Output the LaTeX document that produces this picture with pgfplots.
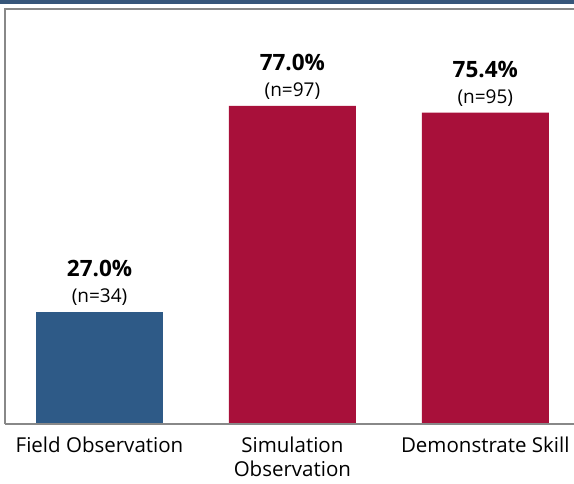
\documentclass[border=0pt]{standalone}
\usepackage{pgfplots}
\pgfplotsset{compat=1.18}
\usepackage{fontspec}
\setmainfont{Open Sans}
\definecolor{barblue}{RGB}{46,90,135}
\definecolor{barred}{RGB}{168,16,58}
\definecolor{band}{RGB}{55,86,122}
\definecolor{axgray}{RGB}{136,136,136}
\begin{document}
\begin{tikzpicture}
\path[use as bounding box] (0,0) rectangle (574pt,483pt);
\fill[band] (0,479pt) rectangle (574pt,483pt);
\begin{axis}[
  at={(5pt,59pt)}, anchor=south west,
  scale only axis, width=569pt, height=415.5pt,
  xmin=-0.49, xmax=2.46, ymin=0, ymax=100.6,
  axis line style={draw=none},
  xtick={0,1,2},
  xticklabels={Field Observation, Simulation\\Observation, Demonstrate Skill},
  major tick length=0pt,
  xtick style={draw=none},
  xticklabel style={align=center, font=\fontsize{20.5}{24}\selectfont, anchor=north, yshift=-11pt, inner ysep=2pt},
  ytick=\empty,
  /pgf/number format/assume math mode=true,
  ybar, bar width=127pt,
  point meta=explicit symbolic,
  nodes near coords={{\fontsize{22.5}{24}\selectfont\bfseries\pgfmathprintnumber[fixed,fixed zerofill,precision=1,assume math mode=true]{\pgfkeysvalueof{/data point/y}}\%}\\[6pt]{\fontsize{19}{20}\selectfont(n=\pgfplotspointmeta)}},
  nodes near coords style={anchor=south, yshift=3pt, align=center, font=\fontsize{19}{20}\selectfont},
  clip=false,
]
\addplot[fill=barblue, draw=none, bar shift=0pt] coordinates {(0,27.0) [34]};
\addplot[fill=barred, draw=none, bar shift=0pt] coordinates {(1,77.0) [97] (2,75.4) [95]};
\draw[axgray, line width=2pt] (rel axis cs:0,0) -- (rel axis cs:0,1) -- (rel axis cs:1,1);
\draw[axgray, line width=2pt] (rel axis cs:0,0) -- (rel axis cs:1,0);
\end{axis}
\end{tikzpicture}
\end{document}
